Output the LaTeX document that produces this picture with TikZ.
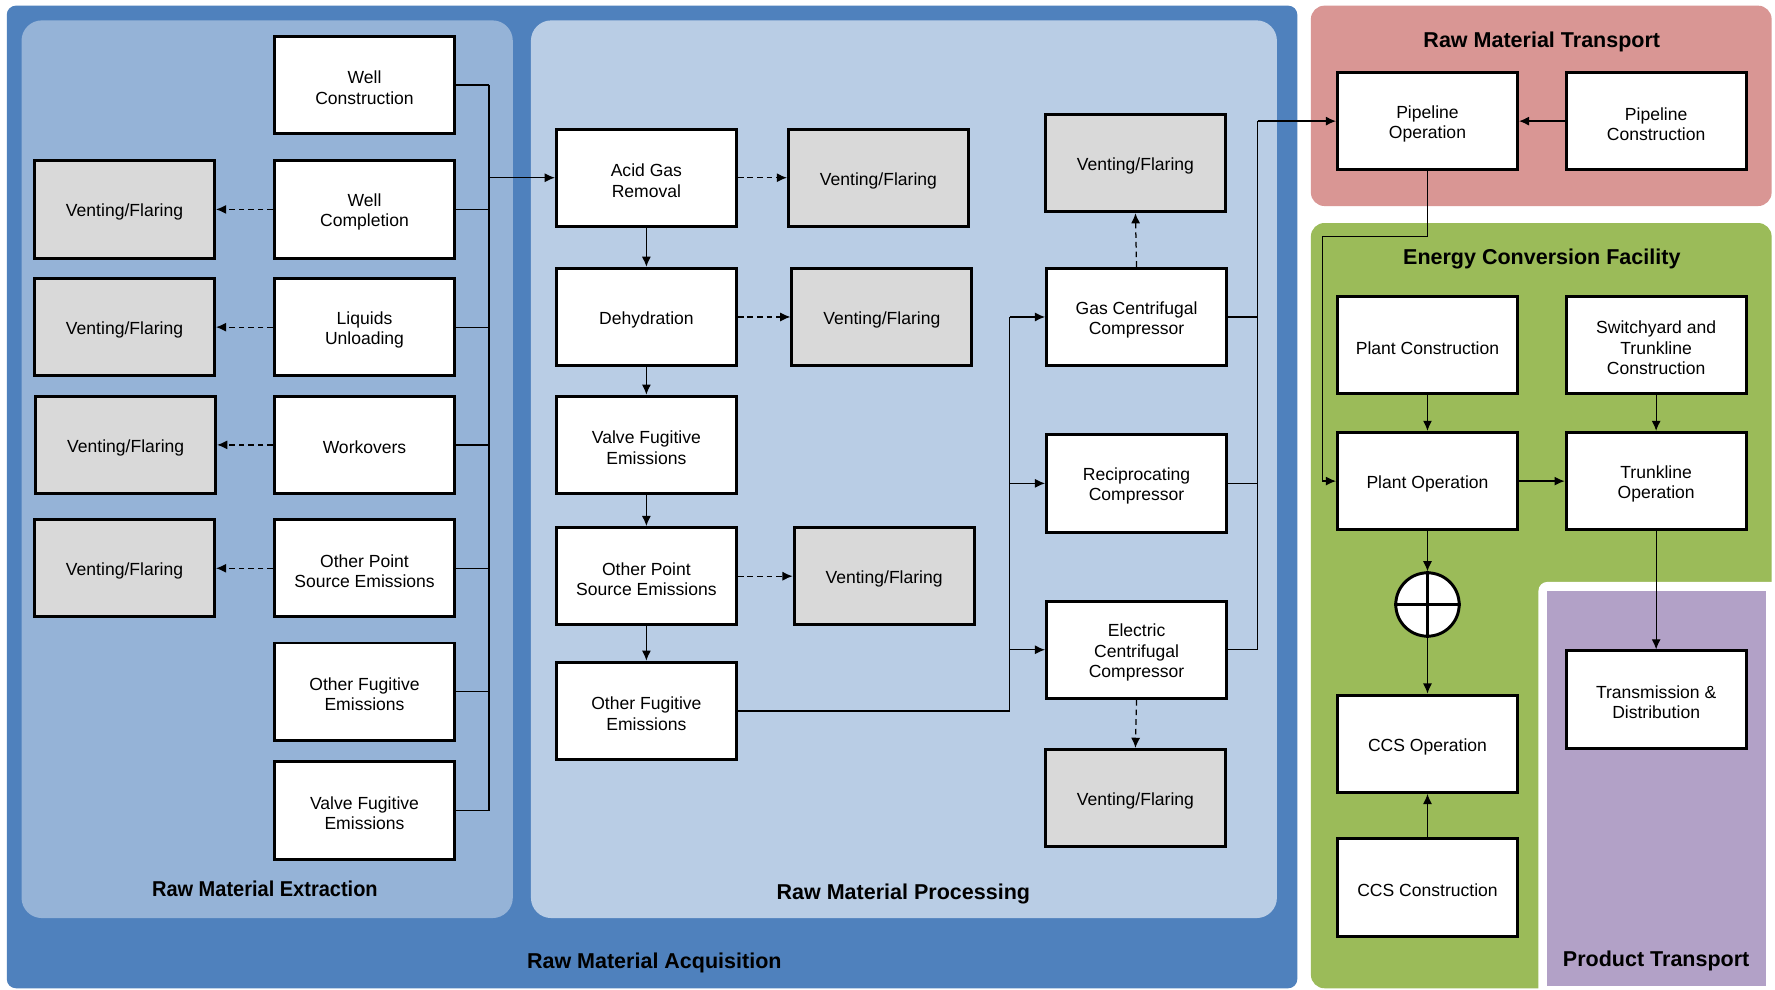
\documentclass[tikz,border=0pt]{standalone}
\usepackage{fontspec}
\setmainfont{Liberation Sans}
\usetikzlibrary{arrows.meta}
\definecolor{acq}{RGB}{79,129,189}
\definecolor{extc}{RGB}{149,179,215}
\definecolor{procc}{RGB}{185,205,229}
\definecolor{pinkc}{RGB}{217,150,148}
\definecolor{greenc}{RGB}{155,187,89}
\definecolor{purplec}{RGB}{178,161,199}
\definecolor{ventgrey}{RGB}{217,217,217}
% box with its text set slightly low, as in the reference
\newcommand\mybox[4]{%
  \node[#1] (#2) at #3 {};
  \node[boxtxt] (#2-t) at ([yshift=-2.5pt]#2.center) {#4};}
\begin{document}
\begin{tikzpicture}[x=1pt,y=-1pt,
  box/.style={draw=black, line width=2.6pt, fill=white, minimum width=159pt, minimum height=86pt, inner sep=0pt},
  vent/.style={box, fill=ventgrey},
  boxtxt/.style={align=center, inner sep=0pt, font=\fontsize{15.5}{18}\selectfont},
  title/.style={font=\fontsize{19}{22}\selectfont\bfseries},
  conn/.style={line width=1.1pt},
  arr/.style={conn, -{Latex[length=9pt,width=8pt]}},
  darr/.style={arr, dash pattern=on 5pt off 3.5pt},
  ]
\useasboundingbox (0,0) rectangle (1568,874);
% panels
\fill[white] (0,0) rectangle (1568,874);
\fill[acq, rounded corners=8pt] (6,5) rectangle (1146,873);
\fill[extc, rounded corners=18pt] (19,18) rectangle (453,811);
\fill[procc, rounded corners=18pt] (469,18) rectangle (1128,811);
\fill[pinkc, rounded corners=12pt] (1158,5) rectangle (1565,182);
\fill[greenc, rounded corners=12pt] (1158,197) rectangle (1565,873);
\fill[white, rounded corners=8pt] (1359,514) rectangle (1576,884);
\fill[purplec] (1367,522) rectangle (1560,871);

% titles
\node[title] (tacq) at (578,851) {Raw Material Acquisition};
\node[title, xscale=0.93, transform shape] (text) at (234,785) {Raw Material Extraction};
\node[title] (tproc) at (798,790) {Raw Material Processing};
\node[title] (ttra) at (1362,37) {Raw Material Transport};
\node[title] (tecf) at (1362,229) {Energy Conversion Facility};
\node[title] (tpt) at (1463,849) {Product Transport};

% extraction
\mybox{box}{wc}{(322,75)}{Well\\Construction}
\mybox{box}{wcomp}{(322,185)}{Well\\Completion}
\mybox{box}{lu}{(322,289)}{Liquids\\Unloading}
\mybox{box}{wo}{(322,393)}{Workovers}
\mybox{box}{ops1}{(322,502)}{Other Point\\Source Emissions}
\mybox{box}{ofe1}{(322,611)}{Other Fugitive\\Emissions}
\mybox{box}{vfe1}{(322,716)}{Valve Fugitive\\Emissions}
\mybox{vent}{v1}{(110,185)}{Venting/Flaring}
\mybox{vent}{v2}{(110,289)}{Venting/Flaring}
\mybox{vent}{v3}{(111,393)}{Venting/Flaring}
\mybox{vent}{v4}{(110,502)}{Venting/Flaring}

% processing
\mybox{box}{agr}{(571,157)}{Acid Gas\\Removal}
\mybox{box}{deh}{(571,280)}{Dehydration}
\mybox{box}{vfe2}{(571,393)}{Valve Fugitive\\Emissions}
\mybox{box}{ops2}{(571,509)}{Other Point\\Source Emissions}
\mybox{box}{ofe2}{(571,628)}{Other Fugitive\\Emissions}
\mybox{vent}{pv1}{(776,157)}{Venting/Flaring}
\mybox{vent}{pv2}{(779,280)}{Venting/Flaring}
\mybox{vent}{pv3}{(781,509)}{Venting/Flaring}
\mybox{vent}{cvt}{(1003,144)}{Venting/Flaring}
\mybox{box}{gcc}{(1004,280)}{Gas Centrifugal\\Compressor}
\mybox{box}{rc}{(1004,427)}{Reciprocating\\Compressor}
\mybox{box}{ecc}{(1004,574)}{Electric\\Centrifugal\\Compressor}
\mybox{vent}{cvb}{(1003,705)}{Venting/Flaring}

% transport
\mybox{box}{po}{(1261,107)}{Pipeline\\Operation}
\mybox{box}{pc}{(1463,107)}{Pipeline\\Construction}

% energy conversion
\mybox{box}{plc}{(1261,305)}{Plant Construction}
\mybox{box}{stc}{(1463,305)}{Switchyard and\\Trunkline\\Construction}
\mybox{box}{plo}{(1261,425)}{Plant Operation}
\mybox{box}{tro}{(1463,425)}{Trunkline\\Operation}
\node[circle, draw=black, line width=2.6pt, fill=white, minimum size=56pt, inner sep=0pt] (circ) at (1261,534) {};
\draw[line width=2.6pt] (circ.north) -- (circ.south);
\draw[line width=2.6pt] (circ.west) -- (circ.east);
\mybox{box}{ccso}{(1261,657)}{CCS Operation}
\mybox{box}{ccsc}{(1261,784)}{CCS Construction}
\mybox{box}{td}{(1463,618)}{Transmission \&\\Distribution}

% extraction connectors
\coordinate (xb) at (432,0);
\foreach \n in {wc,wcomp,lu,wo,ops1,ofe1,vfe1}
  \draw[conn] (\n.east) -- (\n.east -| xb);
\draw[conn] (wc.east -| xb) -- (vfe1.east -| xb);
\draw[arr] (agr.west -| xb) -- (agr.west);
\draw[darr] (wcomp.west) -- (v1.east);
\draw[darr] (lu.west) -- (v2.east);
\draw[darr] (wo.west) -- (v3.east);
\draw[darr] (ops1.west) -- (v4.east);

% processing connectors
\draw[arr] (agr) -- (deh);
\draw[arr] (deh) -- (vfe2);
\draw[arr] (vfe2) -- (ops2);
\draw[arr] (ops2) -- (ofe2);
\draw[darr] (agr.east) -- (pv1.west);
\draw[darr] (deh.east) -- (pv2.west);
\draw[darr] (ops2.east) -- (pv3.west);
\coordinate (xc) at (892,0);
\draw[conn] (ofe2.east) -- (ofe2.east -| xc) -- (gcc.west -| xc);
\draw[arr] (gcc.west -| xc) -- (gcc.west);
\draw[arr] (rc.west -| xc) -- (rc.west);
\draw[arr] (ecc.west -| xc) -- (ecc.west);
\draw[darr] (gcc.north) -- (cvt.south);
\draw[darr] (ecc.south) -- (cvb.north);
\coordinate (xd) at (1111,0);
\draw[conn] (gcc.east) -- (gcc.east -| xd);
\draw[conn] (rc.east) -- (rc.east -| xd);
\draw[conn] (ecc.east) -- (ecc.east -| xd) -- (po.west -| xd);
\draw[arr] (po.west -| xd) -- (po.west);

% transport / energy connectors
\draw[arr] (pc.west) -- (po.east);
\coordinate (k1) at (1168,209);
\draw[arr] (po.south) |- (k1) |- (plo.west);
\draw[arr] (plc) -- (plo);
\draw[arr] (stc) -- (tro);
\draw[arr] (plo) -- (tro);
\draw[arr] (plo) -- (circ);
\draw[arr] (circ) -- (ccso);
\draw[arr] (ccsc) -- (ccso);
\draw[arr] (tro) -- (td);
\end{tikzpicture}
\end{document}
